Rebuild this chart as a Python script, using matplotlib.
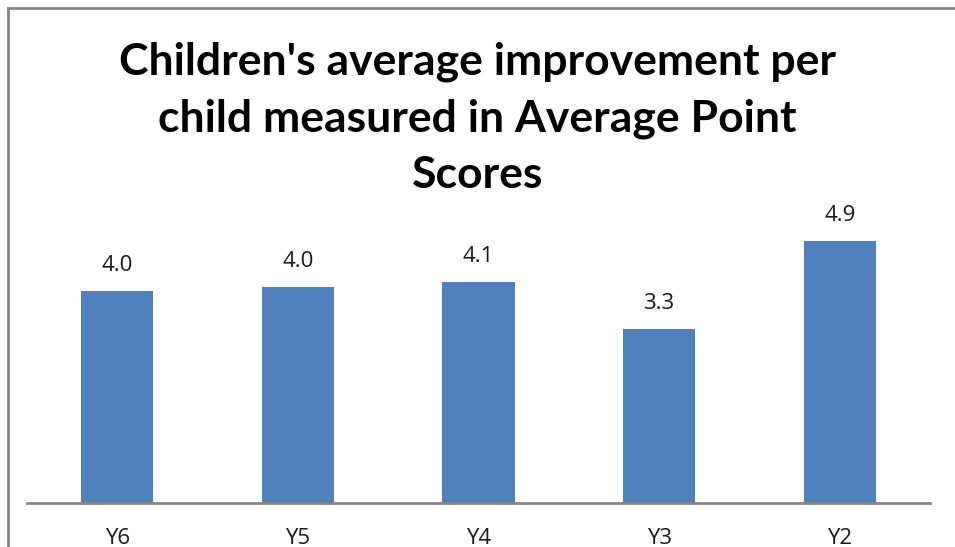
import matplotlib
matplotlib.use("Agg")
import matplotlib.pyplot as plt
from matplotlib.lines import Line2D

categories = ["Y6", "Y5", "Y4", "Y3", "Y2"]
values = [3.96, 4.04, 4.13, 3.25, 4.90]
labels = ["4.0", "4.0", "4.1", "3.3", "4.9"]

TITLE = "Children's average improvement per\nchild measured in Average Point\nScores"
BAR_COLOR = "#4F81BD"
GRAY = "#868686"

fig = plt.figure(figsize=(9.55, 5.47), dpi=100)
ax = fig.add_axes([27 / 955, 44 / 547, 903 / 955, 321 / 547])

x = range(len(categories))
ax.bar(x, values, width=0.4, color=BAR_COLOR, zorder=2)
for i, (v, lab) in enumerate(zip(values, labels)):
    ax.annotate(lab, (i, v), xytext=(0, 11), textcoords="offset points",
                ha="center", va="bottom", fontsize=16, family="Open Sans",
                color="#1a1a1a")

ax.set_xlim(-0.5, len(categories) - 0.5)
ax.set_ylim(0, 6)
ax.set_yticks([])
ax.set_xticks(list(x))
ax.set_xticklabels(categories, fontsize=16, family="Open Sans", color="#1a1a1a")
ax.tick_params(axis="x", length=0, pad=18)
for s in ["top", "right", "left"]:
    ax.spines[s].set_visible(False)
ax.spines["bottom"].set_color(GRAY)
ax.spines["bottom"].set_linewidth(2)

fig.text(0.5, 1 - 42 / 547, TITLE, ha="center", va="top", fontsize=32,
         fontweight="bold", family="Lato", linespacing=1.48)

# chart-area border (left and top only visible)
fig.add_artist(Line2D([8 / 955, 8 / 955], [0, 1 - 8 / 547], transform=fig.transFigure,
                      color=GRAY, lw=2))
fig.add_artist(Line2D([8 / 955, 1], [1 - 8 / 547, 1 - 8 / 547], transform=fig.transFigure,
                      color=GRAY, lw=2))

fig.savefig("out.png", dpi=100)
